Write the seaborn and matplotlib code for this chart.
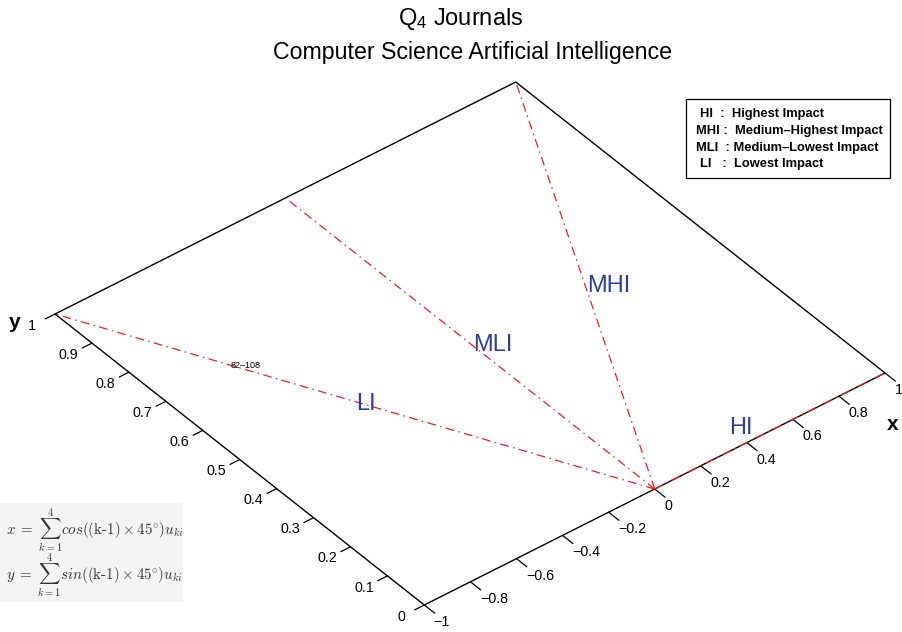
import matplotlib
matplotlib.use("Agg")
import numpy as np
import pandas as pd
import seaborn as sns
import matplotlib.pyplot as plt
from matplotlib.transforms import Affine2D
from matplotlib.patches import Rectangle

# ---------------- data ----------------
impact_groups = ["HI", "MHI", "MLI", "LI"]
group_angles_deg = [0, 45, 90, 135]            # (k-1) x 45 degrees
legend_entries = ["HI  :  Highest Impact",
                  "MHI :  Medium\u2013Highest Impact",
                  "MLI  : Medium\u2013Lowest Impact",
                  "LI   :  Lowest Impact"]
x_limits = [-1, 1]
y_limits = [0, 1]
x_tick_values = [-1, -0.8, -0.6, -0.4, -0.2, 0, 0.2, 0.4, 0.6, 0.8, 1]
x_tick_labels = ["\u22121", "\u22120.8", "\u22120.6", "\u22120.4", "\u22120.2",
                 "0", "0.2", "0.4", "0.6", "0.8", "1"]
y_tick_values = [0, 0.1, 0.2, 0.3, 0.4, 0.5, 0.6, 0.7, 0.8, 0.9, 1]
y_tick_labels = ["0", "0.1", "0.2", "0.3", "0.4", "0.5", "0.6", "0.7", "0.8", "0.9", "1"]
rank_range_text = "82\u2013108"
title_line1 = "Q$_\\mathrm{4}$ Journals"
title_line2 = "Computer Science Artificial Intelligence"
formula_lines = [r"$x\;=\;\sum_{k=1}^{4}cos((\text{k-1}) \times 45^{\circ})u_{ki}$",
                 r"$y\;=\;\sum_{k=1}^{4}sin((\text{k-1}) \times 45^{\circ})u_{ki}$"]

# label placement (data coords of the x-y plane)
group_label_pos = {"HI": (0.434, 0.037), "MHI": (0.561, 0.474),
                   "MLI": (0.056, 0.473), "LI": (-0.479, 0.483)}
rank_label_pos = (-0.668, 0.692)

# ---------------- style ----------------
sns.set_theme(style="white")
plt.rcParams["font.family"] = ["Liberation Sans", "DejaVu Sans"]
plt.rcParams["text.color"] = "black"
plt.rcParams["mathtext.fontset"] = "custom"
plt.rcParams["mathtext.rm"] = "Liberation Sans"
plt.rcParams["mathtext.it"] = "Liberation Sans:italic"
plt.rcParams["mathtext.bf"] = "Liberation Sans:bold"

RED = "#ff1a1a"
BLUE = "#2d3e99"

fig = plt.figure(figsize=(9.03, 6.32), dpi=100)
ax = fig.add_axes([0, 0, 1, 1])

# oblique (orthographic) view of the x-y plane: pixel position of origin and unit vectors
origin_px = (654.7, 489.0)
x_unit_px = (230.35, -116.0)
y_unit_px = (-369.3, -291.0)
view = Affine2D.from_values(x_unit_px[0], x_unit_px[1], y_unit_px[0], y_unit_px[1],
                            origin_px[0], origin_px[1])
data_tr = view + ax.transData

# ---------------- rays from the origin to the plot box ----------------
rows = []
for g, a in zip(impact_groups, group_angles_deg):
    c, s = np.cos(np.radians(a)), np.sin(np.radians(a))
    c = 0.0 if abs(c) < 1e-12 else c
    tx = x_limits[1] / c if c > 0 else (x_limits[0] / c if c < 0 else np.inf)
    ty = y_limits[1] / s if s > 1e-12 else np.inf
    t = min(tx, ty)
    rows.append(dict(group=g, step=0, x=0.0, y=0.0))
    rows.append(dict(group=g, step=1, x=t * c, y=t * s))
rays = pd.DataFrame(rows)

# box outline
bx = [x_limits[0], x_limits[1], x_limits[1], x_limits[0], x_limits[0]]
by = [y_limits[0], y_limits[0], y_limits[1], y_limits[1], y_limits[0]]
ax.plot(bx, by, color="black", lw=1.0, transform=data_tr, zorder=2, solid_joinstyle="miter")

sns.lineplot(data=rays, x="x", y="y", units="group", estimator=None, sort=False,
             color=RED, linewidth=0.9, linestyle=(0, (7, 3.5, 1.2, 3.5)),
             transform=data_tr, ax=ax, legend=False, zorder=3)

# ticks
xt_len = 0.028
yt_len = 0.042
for v, lab in zip(x_tick_values, x_tick_labels):
    ax.plot([v, v], [y_limits[0], y_limits[0] - xt_len], color="black", lw=0.9,
            transform=data_tr, zorder=2)
    ax.annotate(lab, xy=(v, y_limits[0]), xycoords=data_tr, xytext=(6.8, -12.2),
                textcoords="offset points", ha="left", va="center", fontsize=10.3, color="black")
for v, lab in zip(y_tick_values, y_tick_labels):
    ax.plot([x_limits[0], x_limits[0] - yt_len], [v, v], color="black", lw=0.9,
            transform=data_tr, zorder=2)
    ax.annotate(lab, xy=(x_limits[0], v), xycoords=data_tr, xytext=(-16.8, -8.4),
                textcoords="offset points", ha="center", va="center", fontsize=10.3, color="black")

# axis labels
ax.annotate("x", xy=(x_limits[1], y_limits[0]), xycoords=data_tr, xytext=(5.5, -37),
            textcoords="offset points", ha="center", va="center", fontsize=15, fontweight="bold")
ax.annotate("y", xy=(x_limits[0], y_limits[1]), xycoords=data_tr, xytext=(-29, -6),
            textcoords="offset points", ha="center", va="center", fontsize=15, fontweight="bold")

# group labels
for g in impact_groups:
    px, py = group_label_pos[g]
    ax.text(px, py, g, transform=data_tr, ha="center", va="center", fontsize=17,
            color=BLUE, zorder=4)
ax.text(rank_label_pos[0], rank_label_pos[1], rank_range_text, transform=data_tr,
        ha="center", va="center", fontsize=6.5, color="black", zorder=4)

# titles
fig.text(461 / 903, 1 - 19 / 632, title_line1, ha="center", va="center", fontsize=17,
         math_fontfamily="custom")
fig.text(473 / 903, 1 - 52 / 632, title_line2, ha="center", va="center", fontsize=16.7)

# legend box (top right)
ax.add_patch(Rectangle((686, 99), 204.5, 78.5, facecolor="white", edgecolor="black",
                       lw=0.9, zorder=5))
legend_x = [700.5, 696, 696, 700]
legend_y = [114, 131, 147.5, 164]
for txt, lx, ly in zip(legend_entries, legend_x, legend_y):
    ax.text(lx, ly, txt, ha="left", va="center", fontsize=9.3, fontweight="bold", zorder=6)

# formula box (bottom left)
ax.add_patch(Rectangle((0, 503), 183, 99, facecolor="#f4f4f4", edgecolor="none", zorder=1))
for fl, fy in zip(formula_lines, [530, 575]):
    ax.text(6, fy, fl, ha="left", va="center", fontsize=10.8, math_fontfamily="cm",
            color="#333333", zorder=2)

ax.set_xlim(0, 903)
ax.set_ylim(632, 0)
ax.axis("off")

fig.savefig("out.png", dpi=100)
